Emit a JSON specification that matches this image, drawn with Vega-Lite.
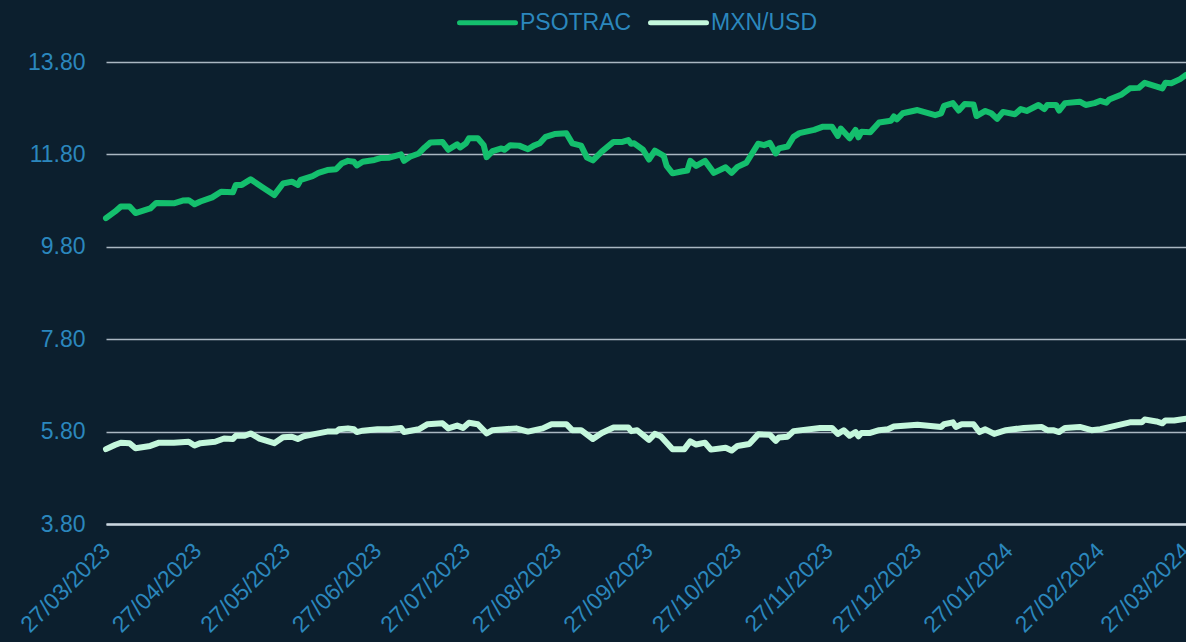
{
"$schema": "https://vega.github.io/schema/vega-lite/v6.json",
"width": 1080, "height": 462,
"autosize": {"type": "none"},
"padding": {"left": 106, "top": 62, "right": 0, "bottom": 118},
"background": "#0c1f2e",
"config": {"view": {"stroke": null}, "font": "Liberation Sans"},
"datasets": {
"raw": [
{"s":"PSOTRAC","d":"2023-03-27","v":10.42},{"s":"PSOTRAC","d":"2023-03-30","v":10.56},{"s":"PSOTRAC","d":"2023-04-01","v":10.67},{"s":"PSOTRAC","d":"2023-04-04","v":10.67},{"s":"PSOTRAC","d":"2023-04-05","v":10.60},{"s":"PSOTRAC","d":"2023-04-06","v":10.53},{"s":"PSOTRAC","d":"2023-04-11","v":10.63},{"s":"PSOTRAC","d":"2023-04-13","v":10.75},{"s":"PSOTRAC","d":"2023-04-19","v":10.74},{"s":"PSOTRAC","d":"2023-04-22","v":10.80},{"s":"PSOTRAC","d":"2023-04-24","v":10.81},{"s":"PSOTRAC","d":"2023-04-26","v":10.72},{"s":"PSOTRAC","d":"2023-04-28","v":10.78},{"s":"PSOTRAC","d":"2023-05-02","v":10.87},{"s":"PSOTRAC","d":"2023-05-05","v":10.99},{"s":"PSOTRAC","d":"2023-05-09","v":10.98},{"s":"PSOTRAC","d":"2023-05-10","v":11.14},{"s":"PSOTRAC","d":"2023-05-12","v":11.14},{"s":"PSOTRAC","d":"2023-05-15","v":11.26},{"s":"PSOTRAC","d":"2023-05-19","v":11.09},{"s":"PSOTRAC","d":"2023-05-23","v":10.92},{"s":"PSOTRAC","d":"2023-05-26","v":11.17},{"s":"PSOTRAC","d":"2023-05-29","v":11.21},{"s":"PSOTRAC","d":"2023-05-31","v":11.14},{"s":"PSOTRAC","d":"2023-06-01","v":11.25},{"s":"PSOTRAC","d":"2023-06-05","v":11.33},{"s":"PSOTRAC","d":"2023-06-07","v":11.40},{"s":"PSOTRAC","d":"2023-06-10","v":11.46},{"s":"PSOTRAC","d":"2023-06-13","v":11.48},{"s":"PSOTRAC","d":"2023-06-15","v":11.61},{"s":"PSOTRAC","d":"2023-06-17","v":11.66},{"s":"PSOTRAC","d":"2023-06-19","v":11.64},{"s":"PSOTRAC","d":"2023-06-20","v":11.56},{"s":"PSOTRAC","d":"2023-06-22","v":11.64},{"s":"PSOTRAC","d":"2023-06-26","v":11.68},{"s":"PSOTRAC","d":"2023-06-28","v":11.72},{"s":"PSOTRAC","d":"2023-07-01","v":11.73},{"s":"PSOTRAC","d":"2023-07-05","v":11.80},{"s":"PSOTRAC","d":"2023-07-06","v":11.66},{"s":"PSOTRAC","d":"2023-07-08","v":11.75},{"s":"PSOTRAC","d":"2023-07-11","v":11.82},{"s":"PSOTRAC","d":"2023-07-13","v":11.95},{"s":"PSOTRAC","d":"2023-07-15","v":12.06},{"s":"PSOTRAC","d":"2023-07-19","v":12.07},{"s":"PSOTRAC","d":"2023-07-21","v":11.90},{"s":"PSOTRAC","d":"2023-07-24","v":12.02},{"s":"PSOTRAC","d":"2023-07-25","v":11.95},{"s":"PSOTRAC","d":"2023-07-27","v":12.04},{"s":"PSOTRAC","d":"2023-07-28","v":12.15},{"s":"PSOTRAC","d":"2023-07-31","v":12.15},{"s":"PSOTRAC","d":"2023-08-02","v":12.00},{"s":"PSOTRAC","d":"2023-08-03","v":11.74},{"s":"PSOTRAC","d":"2023-08-05","v":11.87},{"s":"PSOTRAC","d":"2023-08-08","v":11.93},{"s":"PSOTRAC","d":"2023-08-09","v":11.90},{"s":"PSOTRAC","d":"2023-08-11","v":12.00},{"s":"PSOTRAC","d":"2023-08-14","v":11.99},{"s":"PSOTRAC","d":"2023-08-17","v":11.91},{"s":"PSOTRAC","d":"2023-08-19","v":11.99},{"s":"PSOTRAC","d":"2023-08-21","v":12.04},{"s":"PSOTRAC","d":"2023-08-23","v":12.18},{"s":"PSOTRAC","d":"2023-08-26","v":12.24},{"s":"PSOTRAC","d":"2023-08-30","v":12.26},{"s":"PSOTRAC","d":"2023-09-01","v":12.04},{"s":"PSOTRAC","d":"2023-09-04","v":11.99},{"s":"PSOTRAC","d":"2023-09-06","v":11.73},{"s":"PSOTRAC","d":"2023-09-08","v":11.67},{"s":"PSOTRAC","d":"2023-09-11","v":11.86},{"s":"PSOTRAC","d":"2023-09-15","v":12.07},{"s":"PSOTRAC","d":"2023-09-18","v":12.07},{"s":"PSOTRAC","d":"2023-09-20","v":12.11},{"s":"PSOTRAC","d":"2023-09-21","v":12.03},{"s":"PSOTRAC","d":"2023-09-22","v":12.04},{"s":"PSOTRAC","d":"2023-09-25","v":11.90},{"s":"PSOTRAC","d":"2023-09-27","v":11.69},{"s":"PSOTRAC","d":"2023-09-29","v":11.88},{"s":"PSOTRAC","d":"2023-10-02","v":11.77},{"s":"PSOTRAC","d":"2023-10-03","v":11.55},{"s":"PSOTRAC","d":"2023-10-05","v":11.39},{"s":"PSOTRAC","d":"2023-10-08","v":11.43},{"s":"PSOTRAC","d":"2023-10-10","v":11.45},{"s":"PSOTRAC","d":"2023-10-11","v":11.66},{"s":"PSOTRAC","d":"2023-10-13","v":11.55},{"s":"PSOTRAC","d":"2023-10-16","v":11.66},{"s":"PSOTRAC","d":"2023-10-19","v":11.40},{"s":"PSOTRAC","d":"2023-10-23","v":11.52},{"s":"PSOTRAC","d":"2023-10-25","v":11.40},{"s":"PSOTRAC","d":"2023-10-27","v":11.53},{"s":"PSOTRAC","d":"2023-10-30","v":11.62},{"s":"PSOTRAC","d":"2023-11-03","v":12.03},{"s":"PSOTRAC","d":"2023-11-05","v":12.00},{"s":"PSOTRAC","d":"2023-11-07","v":12.05},{"s":"PSOTRAC","d":"2023-11-09","v":11.82},{"s":"PSOTRAC","d":"2023-11-10","v":11.93},{"s":"PSOTRAC","d":"2023-11-13","v":11.97},{"s":"PSOTRAC","d":"2023-11-15","v":12.18},{"s":"PSOTRAC","d":"2023-11-17","v":12.26},{"s":"PSOTRAC","d":"2023-11-22","v":12.33},{"s":"PSOTRAC","d":"2023-11-25","v":12.40},{"s":"PSOTRAC","d":"2023-11-28","v":12.40},{"s":"PSOTRAC","d":"2023-11-30","v":12.20},{"s":"PSOTRAC","d":"2023-12-01","v":12.36},{"s":"PSOTRAC","d":"2023-12-04","v":12.15},{"s":"PSOTRAC","d":"2023-12-06","v":12.33},{"s":"PSOTRAC","d":"2023-12-07","v":12.17},{"s":"PSOTRAC","d":"2023-12-08","v":12.29},{"s":"PSOTRAC","d":"2023-12-11","v":12.28},{"s":"PSOTRAC","d":"2023-12-14","v":12.49},{"s":"PSOTRAC","d":"2023-12-18","v":12.53},{"s":"PSOTRAC","d":"2023-12-19","v":12.62},{"s":"PSOTRAC","d":"2023-12-20","v":12.56},{"s":"PSOTRAC","d":"2023-12-22","v":12.69},{"s":"PSOTRAC","d":"2023-12-27","v":12.76},{"s":"PSOTRAC","d":"2024-01-02","v":12.65},{"s":"PSOTRAC","d":"2024-01-04","v":12.69},{"s":"PSOTRAC","d":"2024-01-05","v":12.85},{"s":"PSOTRAC","d":"2024-01-08","v":12.91},{"s":"PSOTRAC","d":"2024-01-10","v":12.75},{"s":"PSOTRAC","d":"2024-01-12","v":12.89},{"s":"PSOTRAC","d":"2024-01-15","v":12.88},{"s":"PSOTRAC","d":"2024-01-16","v":12.63},{"s":"PSOTRAC","d":"2024-01-19","v":12.74},{"s":"PSOTRAC","d":"2024-01-21","v":12.69},{"s":"PSOTRAC","d":"2024-01-23","v":12.57},{"s":"PSOTRAC","d":"2024-01-25","v":12.72},{"s":"PSOTRAC","d":"2024-01-29","v":12.67},{"s":"PSOTRAC","d":"2024-01-31","v":12.78},{"s":"PSOTRAC","d":"2024-02-02","v":12.74},{"s":"PSOTRAC","d":"2024-02-06","v":12.87},{"s":"PSOTRAC","d":"2024-02-08","v":12.78},{"s":"PSOTRAC","d":"2024-02-09","v":12.87},{"s":"PSOTRAC","d":"2024-02-12","v":12.87},{"s":"PSOTRAC","d":"2024-02-13","v":12.75},{"s":"PSOTRAC","d":"2024-02-15","v":12.91},{"s":"PSOTRAC","d":"2024-02-20","v":12.94},{"s":"PSOTRAC","d":"2024-02-22","v":12.87},{"s":"PSOTRAC","d":"2024-02-25","v":12.91},{"s":"PSOTRAC","d":"2024-02-27","v":12.96},{"s":"PSOTRAC","d":"2024-02-29","v":12.92},{"s":"PSOTRAC","d":"2024-03-01","v":12.99},{"s":"PSOTRAC","d":"2024-03-05","v":13.09},{"s":"PSOTRAC","d":"2024-03-08","v":13.23},{"s":"PSOTRAC","d":"2024-03-11","v":13.24},{"s":"PSOTRAC","d":"2024-03-13","v":13.35},{"s":"PSOTRAC","d":"2024-03-19","v":13.23},{"s":"PSOTRAC","d":"2024-03-20","v":13.35},{"s":"PSOTRAC","d":"2024-03-22","v":13.34},{"s":"PSOTRAC","d":"2024-03-25","v":13.43},{"s":"PSOTRAC","d":"2024-03-27","v":13.52},
{"s":"MXN/USD","d":"2023-03-27","v":5.42},{"s":"MXN/USD","d":"2023-03-30","v":5.51},{"s":"MXN/USD","d":"2023-04-01","v":5.56},{"s":"MXN/USD","d":"2023-04-04","v":5.55},{"s":"MXN/USD","d":"2023-04-06","v":5.44},{"s":"MXN/USD","d":"2023-04-11","v":5.49},{"s":"MXN/USD","d":"2023-04-14","v":5.56},{"s":"MXN/USD","d":"2023-04-19","v":5.56},{"s":"MXN/USD","d":"2023-04-24","v":5.58},{"s":"MXN/USD","d":"2023-04-26","v":5.50},{"s":"MXN/USD","d":"2023-04-28","v":5.55},{"s":"MXN/USD","d":"2023-05-03","v":5.58},{"s":"MXN/USD","d":"2023-05-06","v":5.65},{"s":"MXN/USD","d":"2023-05-09","v":5.64},{"s":"MXN/USD","d":"2023-05-10","v":5.71},{"s":"MXN/USD","d":"2023-05-13","v":5.71},{"s":"MXN/USD","d":"2023-05-15","v":5.76},{"s":"MXN/USD","d":"2023-05-18","v":5.65},{"s":"MXN/USD","d":"2023-05-23","v":5.55},{"s":"MXN/USD","d":"2023-05-26","v":5.68},{"s":"MXN/USD","d":"2023-05-29","v":5.69},{"s":"MXN/USD","d":"2023-05-31","v":5.64},{"s":"MXN/USD","d":"2023-06-02","v":5.70},{"s":"MXN/USD","d":"2023-06-06","v":5.75},{"s":"MXN/USD","d":"2023-06-10","v":5.80},{"s":"MXN/USD","d":"2023-06-13","v":5.80},{"s":"MXN/USD","d":"2023-06-14","v":5.85},{"s":"MXN/USD","d":"2023-06-17","v":5.87},{"s":"MXN/USD","d":"2023-06-19","v":5.85},{"s":"MXN/USD","d":"2023-06-20","v":5.79},{"s":"MXN/USD","d":"2023-06-22","v":5.82},{"s":"MXN/USD","d":"2023-06-27","v":5.85},{"s":"MXN/USD","d":"2023-07-01","v":5.85},{"s":"MXN/USD","d":"2023-07-05","v":5.88},{"s":"MXN/USD","d":"2023-07-06","v":5.79},{"s":"MXN/USD","d":"2023-07-11","v":5.85},{"s":"MXN/USD","d":"2023-07-14","v":5.96},{"s":"MXN/USD","d":"2023-07-19","v":5.98},{"s":"MXN/USD","d":"2023-07-21","v":5.87},{"s":"MXN/USD","d":"2023-07-24","v":5.93},{"s":"MXN/USD","d":"2023-07-26","v":5.88},{"s":"MXN/USD","d":"2023-07-28","v":5.99},{"s":"MXN/USD","d":"2023-07-31","v":5.96},{"s":"MXN/USD","d":"2023-08-03","v":5.76},{"s":"MXN/USD","d":"2023-08-05","v":5.83},{"s":"MXN/USD","d":"2023-08-13","v":5.87},{"s":"MXN/USD","d":"2023-08-17","v":5.80},{"s":"MXN/USD","d":"2023-08-22","v":5.87},{"s":"MXN/USD","d":"2023-08-25","v":5.96},{"s":"MXN/USD","d":"2023-08-30","v":5.96},{"s":"MXN/USD","d":"2023-09-01","v":5.83},{"s":"MXN/USD","d":"2023-09-04","v":5.83},{"s":"MXN/USD","d":"2023-09-08","v":5.64},{"s":"MXN/USD","d":"2023-09-11","v":5.77},{"s":"MXN/USD","d":"2023-09-15","v":5.89},{"s":"MXN/USD","d":"2023-09-20","v":5.89},{"s":"MXN/USD","d":"2023-09-21","v":5.81},{"s":"MXN/USD","d":"2023-09-23","v":5.83},{"s":"MXN/USD","d":"2023-09-27","v":5.62},{"s":"MXN/USD","d":"2023-09-29","v":5.75},{"s":"MXN/USD","d":"2023-10-01","v":5.70},{"s":"MXN/USD","d":"2023-10-05","v":5.42},{"s":"MXN/USD","d":"2023-10-09","v":5.42},{"s":"MXN/USD","d":"2023-10-11","v":5.59},{"s":"MXN/USD","d":"2023-10-13","v":5.52},{"s":"MXN/USD","d":"2023-10-16","v":5.56},{"s":"MXN/USD","d":"2023-10-18","v":5.41},{"s":"MXN/USD","d":"2023-10-23","v":5.45},{"s":"MXN/USD","d":"2023-10-25","v":5.39},{"s":"MXN/USD","d":"2023-10-27","v":5.49},{"s":"MXN/USD","d":"2023-10-31","v":5.53},{"s":"MXN/USD","d":"2023-11-03","v":5.74},{"s":"MXN/USD","d":"2023-11-07","v":5.73},{"s":"MXN/USD","d":"2023-11-09","v":5.60},{"s":"MXN/USD","d":"2023-11-10","v":5.67},{"s":"MXN/USD","d":"2023-11-13","v":5.69},{"s":"MXN/USD","d":"2023-11-15","v":5.81},{"s":"MXN/USD","d":"2023-11-24","v":5.88},{"s":"MXN/USD","d":"2023-11-28","v":5.88},{"s":"MXN/USD","d":"2023-11-30","v":5.75},{"s":"MXN/USD","d":"2023-12-02","v":5.83},{"s":"MXN/USD","d":"2023-12-04","v":5.71},{"s":"MXN/USD","d":"2023-12-06","v":5.79},{"s":"MXN/USD","d":"2023-12-07","v":5.70},{"s":"MXN/USD","d":"2023-12-08","v":5.77},{"s":"MXN/USD","d":"2023-12-11","v":5.77},{"s":"MXN/USD","d":"2023-12-14","v":5.83},{"s":"MXN/USD","d":"2023-12-17","v":5.85},{"s":"MXN/USD","d":"2023-12-19","v":5.91},{"s":"MXN/USD","d":"2023-12-27","v":5.95},{"s":"MXN/USD","d":"2024-01-04","v":5.90},{"s":"MXN/USD","d":"2024-01-05","v":5.96},{"s":"MXN/USD","d":"2024-01-08","v":6.00},{"s":"MXN/USD","d":"2024-01-09","v":5.90},{"s":"MXN/USD","d":"2024-01-11","v":5.96},{"s":"MXN/USD","d":"2024-01-15","v":5.96},{"s":"MXN/USD","d":"2024-01-17","v":5.79},{"s":"MXN/USD","d":"2024-01-19","v":5.85},{"s":"MXN/USD","d":"2024-01-22","v":5.75},{"s":"MXN/USD","d":"2024-01-26","v":5.83},{"s":"MXN/USD","d":"2024-02-01","v":5.88},{"s":"MXN/USD","d":"2024-02-07","v":5.90},{"s":"MXN/USD","d":"2024-02-09","v":5.83},{"s":"MXN/USD","d":"2024-02-11","v":5.83},{"s":"MXN/USD","d":"2024-02-13","v":5.79},{"s":"MXN/USD","d":"2024-02-15","v":5.88},{"s":"MXN/USD","d":"2024-02-20","v":5.90},{"s":"MXN/USD","d":"2024-02-24","v":5.83},{"s":"MXN/USD","d":"2024-02-27","v":5.85},{"s":"MXN/USD","d":"2024-03-04","v":5.94},{"s":"MXN/USD","d":"2024-03-08","v":6.00},{"s":"MXN/USD","d":"2024-03-12","v":6.00},{"s":"MXN/USD","d":"2024-03-13","v":6.06},{"s":"MXN/USD","d":"2024-03-17","v":6.02},{"s":"MXN/USD","d":"2024-03-19","v":5.98},{"s":"MXN/USD","d":"2024-03-20","v":6.04},{"s":"MXN/USD","d":"2024-03-23","v":6.04},{"s":"MXN/USD","d":"2024-03-27","v":6.08}
]},
"data": {"name": "raw"},
"mark": {"type": "line", "strokeWidth": 6, "strokeJoin": "round", "strokeCap": "round"},
"encoding": {
"x": {"field": "d", "type": "temporal",
 "scale": {"type": "utc", "domain": [{"year":2023,"month":3,"date":27,"utc":true},{"year":2024,"month":3,"date":27,"utc":true}]},
 "axis": {"title": null, "format": "%d/%m/%Y", "labelAngle": -45, "labelAlign": "right", "labelBaseline": "middle", "labelPadding": 23, "labelFontSize": 23, "labelColor": "#2b87bd", "labelOverlap": false, "grid": false, "ticks": false, "domain": true, "domainColor": "#c9d5de", "domainWidth": 2.5,
  "values": [{"year":2023,"month":3,"date":27,"utc":true},{"year":2023,"month":4,"date":27,"utc":true},{"year":2023,"month":5,"date":27,"utc":true},{"year":2023,"month":6,"date":27,"utc":true},{"year":2023,"month":7,"date":27,"utc":true},{"year":2023,"month":8,"date":27,"utc":true},{"year":2023,"month":9,"date":27,"utc":true},{"year":2023,"month":10,"date":27,"utc":true},{"year":2023,"month":11,"date":27,"utc":true},{"year":2023,"month":12,"date":27,"utc":true},{"year":2024,"month":1,"date":27,"utc":true},{"year":2024,"month":2,"date":27,"utc":true},{"year":2024,"month":3,"date":27,"utc":true}]}},
"y": {"field": "v", "type": "quantitative",
 "scale": {"domain": [3.8, 13.8], "nice": false, "zero": false},
 "axis": {"title": null, "values": [3.8, 5.8, 7.8, 9.8, 11.8, 13.8], "format": ".2f", "labelFontSize": 23, "labelColor": "#2b87bd", "labelPadding": 21, "grid": true, "gridColor": "#aab7c2", "gridWidth": 1.5, "ticks": false, "domain": false}},
"color": {"field": "s", "type": "nominal",
 "scale": {"domain": ["PSOTRAC", "MXN/USD"], "range": ["#14bf6d", "#c4f7dc"]},
 "legend": {"title": null, "orient": "none", "legendX": 351, "legendY": -70, "direction": "horizontal", "symbolType": "stroke", "symbolSize": 3136, "symbolStrokeWidth": 5, "labelFontSize": 23, "labelColor": "#2b87bd", "labelOffset": 2, "columnPadding": 8, "padding": 0,
  "encode": {"symbols": {"update": {"strokeCap": {"value": "round"}}}}}}
}
}
